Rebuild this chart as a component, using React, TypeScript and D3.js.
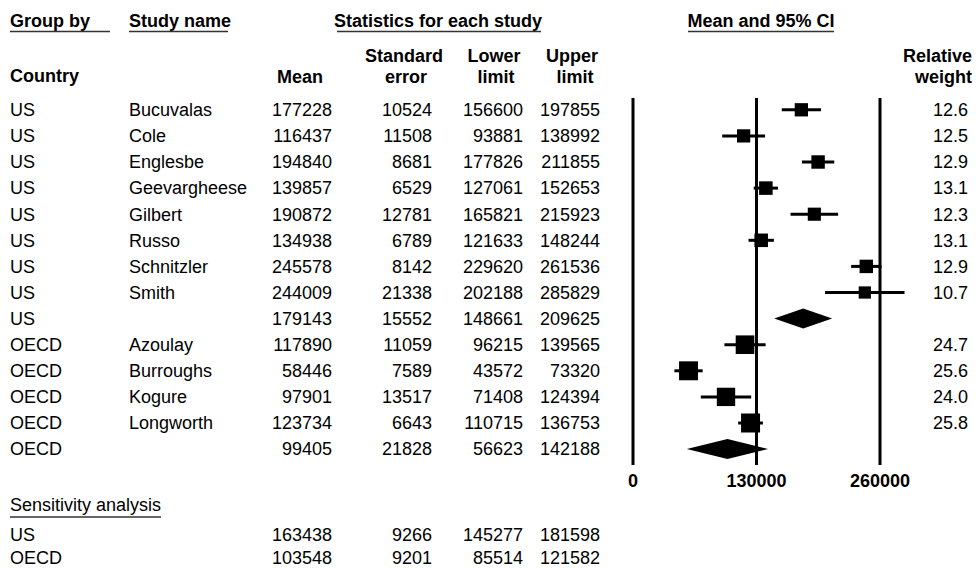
import * as d3 from 'd3'

const W = 978
const H = 569
const FONT = '"Liberation Sans", Arial, Helvetica, sans-serif'
const FS = 18

// Study rows (last row of each group is the group summary)
const GROUPS = ['US', 'US', 'US', 'US', 'US', 'US', 'US', 'US', 'US', 'OECD', 'OECD', 'OECD', 'OECD', 'OECD']
const STUDIES = ['Bucuvalas', 'Cole', 'Englesbe', 'Geevargheese', 'Gilbert', 'Russo', 'Schnitzler', 'Smith', '', 'Azoulay', 'Burroughs', 'Kogure', 'Longworth', '']
const MEANS = [177228, 116437, 194840, 139857, 190872, 134938, 245578, 244009, 179143, 117890, 58446, 97901, 123734, 99405]
const STD_ERR = [10524, 11508, 8681, 6529, 12781, 6789, 8142, 21338, 15552, 11059, 7589, 13517, 6643, 21828]
const LOWER = [156600, 93881, 177826, 127061, 165821, 121633, 229620, 202188, 148661, 96215, 43572, 71408, 110715, 56623]
const UPPER = [197855, 138992, 211855, 152653, 215923, 148244, 261536, 285829, 209625, 139565, 73320, 124394, 136753, 142188]
const WEIGHTS: (number | null)[] = [12.6, 12.5, 12.9, 13.1, 12.3, 13.1, 12.9, 10.7, null, 24.7, 25.6, 24.0, 25.8, null]
const SUMMARY = [false, false, false, false, false, false, false, false, true, false, false, false, false, true]

// Sensitivity analysis
const SENS_GROUPS = ['US', 'OECD']
const SENS_MEANS = [163438, 103548]
const SENS_SE = [9266, 9201]
const SENS_LOWER = [145277, 85514]
const SENS_UPPER = [181598, 121582]

const AXIS_TICKS = [0, 130000, 260000]

// column anchors
const COL_GROUP = 10
const COL_STUDY = 129
const COL_MEAN = 332
const COL_SE = 432
const COL_LOW = 523
const COL_UP = 600
const COL_WEIGHT = 968

export default function App() {
  const x = d3.scaleLinear().domain([0, 260000]).range([633, 880])
  const y = d3.scalePoint<number>().domain(d3.range(GROUPS.length)).range([109.8, 449.1])
  const ySens = d3.scalePoint<number>().domain(d3.range(SENS_GROUPS.length)).range([535, 558])
  const side = d3.scaleSqrt().domain([0, 30]).range([0, 20.5])

  const plotTop = 98
  const plotBottom = 465
  const diamondH = 20

  const cell = (tx: number, ty: number, txt: string | number, anchor = 'end', bold = false) => (
    <text x={tx} y={ty} dy="0.35em" textAnchor={anchor} fontWeight={bold ? 'bold' : 'normal'}>
      {txt}
    </text>
  )

  return (
    <svg
      width={W}
      height={H}
      style={{ position: 'fixed', left: 0, top: 0, background: '#fff' }}
      fontFamily={FONT}
      fontSize={FS}
      fill="#000"
    >
      <rect width={W} height={H} fill="#fff" />

      {/* header row 1 */}
      <g fontWeight="bold">
        <text x={COL_GROUP} y={27}>Group by</text>
        <text x={COL_STUDY} y={27}>Study name</text>
        <text x={438} y={27} textAnchor="middle">Statistics for each study</text>
        <text x={761} y={27} textAnchor="middle">Mean and 95% CI</text>
      </g>
      <g stroke="#333" strokeWidth={1.5}>
        <line x1={10} x2={110} y1={31.5} y2={31.5} />
        <line x1={129} x2={228} y1={31.5} y2={31.5} />
        <line x1={337} x2={541} y1={31.5} y2={31.5} />
        <line x1={688} x2={834} y1={31.5} y2={31.5} />
      </g>

      {/* header row 2 */}
      <g fontWeight="bold" textAnchor="middle">
        <text x={COL_GROUP} y={82} textAnchor="start">Country</text>
        <text x={300} y={83}>Mean</text>
        <text x={404} y={62}>Standard</text>
        <text x={406} y={83}>error</text>
        <text x={494} y={62}>Lower</text>
        <text x={496} y={83}>limit</text>
        <text x={572} y={62}>Upper</text>
        <text x={575} y={83}>limit</text>
        <text x={972} y={62} textAnchor="end">Relative</text>
        <text x={972} y={83} textAnchor="end">weight</text>
      </g>

      {/* table rows */}
      {GROUPS.map((g, i) => (
        <g key={i}>
          {cell(COL_GROUP, y(i)!, g, 'start')}
          {cell(COL_STUDY, y(i)!, STUDIES[i], 'start')}
          {cell(COL_MEAN, y(i)!, MEANS[i])}
          {cell(COL_SE, y(i)!, STD_ERR[i])}
          {cell(COL_LOW, y(i)!, LOWER[i])}
          {cell(COL_UP, y(i)!, UPPER[i])}
          {WEIGHTS[i] != null && cell(COL_WEIGHT, y(i)!, WEIGHTS[i]!.toFixed(1))}
        </g>
      ))}

      {/* reference lines */}
      {AXIS_TICKS.map((t) => (
        <g key={t}>
          <line x1={x(t)} x2={x(t)} y1={plotTop} y2={plotBottom} stroke="#000" strokeWidth={3} />
          <text x={x(t)} y={481} dy="0.35em" textAnchor="middle" fontWeight="bold">{t}</text>
        </g>
      ))}

      {/* forest marks */}
      {MEANS.map((m, i) => {
        const cy = y(i)!
        if (SUMMARY[i]) {
          const pts = [
            [x(LOWER[i]), cy],
            [x(m), cy - diamondH / 2],
            [x(UPPER[i]), cy],
            [x(m), cy + diamondH / 2],
          ]
          return <path key={i} d={d3.line()(pts as [number, number][])! + 'Z'} fill="#000" />
        }
        const s = side(WEIGHTS[i] ?? 0)
        return (
          <g key={i}>
            <line x1={x(LOWER[i])} x2={x(UPPER[i])} y1={cy} y2={cy} stroke="#000" strokeWidth={3} />
            <rect x={x(m) - s / 2} y={cy - s / 2} width={s} height={s} fill="#000" />
          </g>
        )
      })}

      {/* sensitivity analysis */}
      <text x={COL_GROUP} y={505} dy="0.35em">Sensitivity analysis</text>
      <line x1={10} x2={161} y1={517} y2={517} stroke="#333" strokeWidth={1.5} />
      {SENS_GROUPS.map((g, i) => (
        <g key={g}>
          {cell(COL_GROUP, ySens(i)!, g, 'start')}
          {cell(COL_MEAN, ySens(i)!, SENS_MEANS[i])}
          {cell(COL_SE, ySens(i)!, SENS_SE[i])}
          {cell(COL_LOW, ySens(i)!, SENS_LOWER[i])}
          {cell(COL_UP, ySens(i)!, SENS_UPPER[i])}
        </g>
      ))}
    </svg>
  )
}
